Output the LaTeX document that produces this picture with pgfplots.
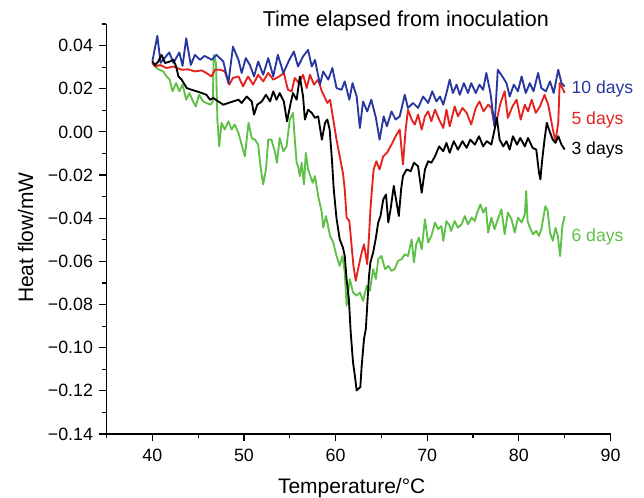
\documentclass[border=0pt]{standalone}
\usepackage{fontspec}
\setmainfont{Liberation Sans}
\usepackage{pgfplots}
\pgfplotsset{compat=1.18}
\definecolor{cblue}{RGB}{40,55,160}
\definecolor{cred}{RGB}{228,35,30}
\definecolor{cgreen}{RGB}{95,192,72}
\begin{document}
\begin{tikzpicture}
\path[use as bounding box] (-106.5bp,-64bp) rectangle (537.5bp,434bp);
\begin{axis}[
  at={(0,0)}, anchor=south west,
  scale only axis, width=504bp, height=410bp,
  xmin=35, xmax=90, ymin=-0.14, ymax=0.05,
  axis lines=left, axis line style={-, line width=1.5bp},
  tick align=outside, major tick length=7bp, minor tick length=4bp,
  every tick/.style={line width=1.2bp, black},
  xtick={40,50,60,70,80,90}, xticklabels={40,50,60,70,80,90},
  minor xtick={35,45,55,65,75,85},
  ytick={-0.14,-0.12,-0.10,-0.08,-0.06,-0.04,-0.02,0,0.02,0.04},
  yticklabels={−0.14,−0.12,−0.10,−0.08,−0.06,−0.04,−0.02,0.00,0.02,0.04},
  minor ytick={-0.13,-0.11,-0.09,-0.07,-0.05,-0.03,-0.01,0.01,0.03,0.05},
  ticklabel style={font=\fontsize{17.8bp}{20bp}\selectfont},
  xticklabel style={yshift=-5bp},
  yticklabel style={xshift=-3bp},
  clip=false,
  every axis plot/.append style={line width=1.85bp, line join=round},
]
\addplot[cgreen] coordinates {(40,0.032) (40.3,0.0303) (40.65,0.029) (41.2,0.028) (41.55,0.0257) (41.9,0.0242) (42.2,0.0188) (42.6,0.0226) (42.95,0.0188) (43.3,0.0219) (43.7,0.0149) (44.05,0.018) (44.45,0.0141) (44.75,0.0118) (45.1,0.0172) (45.55,0.0141) (45.9,0.0134) (46.35,0.0126) (46.6,0.0141) (46.7,0.0357) (46.95,0.0319) (47.1,0.0057) (47.3,-0.0067) (47.55,0.0042) (47.9,0.0011) (48.3,0.0049) (48.65,0.0011) (49.0,0.0034) (49.4,-0.0005) (49.75,-0.0059) (50.1,-0.0113) (50.5,0.0042) (50.85,-0.0028) (51.2,-0.0036) (51.55,-0.0059) (51.8,-0.0159) (52.1,-0.0243) (52.4,-0.0174) (52.65,-0.0036) (53.0,-0.0036) (53.4,-0.0097) (53.6,-0.0143) (53.9,-0.0028) (54.3,-0.009) (54.65,-0.0067) (55.0,0.0057) (55.35,0.0088) (55.55,-0.0036) (55.75,-0.0143) (55.9,-0.0159) (56.1,-0.0205) (56.3,-0.0143) (56.55,-0.0243) (56.75,-0.0097) (57.0,-0.0174) (57.25,-0.0205) (57.5,-0.0236) (57.75,-0.0205) (58.1,-0.0298) (58.5,-0.0374) (58.65,-0.0444) (58.95,-0.039) (59.4,-0.0482) (59.75,-0.0513) (60.1,-0.0575) (60.45,-0.0621) (60.75,-0.0575) (61.0,-0.0651) (61.2,-0.0806) (61.55,-0.0682) (61.9,-0.0744) (62.3,-0.0759) (62.65,-0.0744) (63.0,-0.0783) (63.4,-0.0713) (63.75,-0.0736) (64.1,-0.0636) (64.4,-0.0682) (64.65,-0.059) (65.0,-0.0575) (65.4,-0.0636) (65.75,-0.0621) (66.1,-0.0644) (66.45,-0.0636) (66.8,-0.0598) (67.2,-0.059) (67.55,-0.0567) (67.9,-0.0575) (68.3,-0.0498) (68.55,-0.0605) (68.8,-0.0521) (69.1,-0.049) (69.4,-0.0544) (69.75,-0.0405) (70.1,-0.0513) (70.45,-0.0482) (70.85,-0.042) (71.2,-0.0451) (71.55,-0.0436) (71.75,-0.0505) (72.1,-0.0413) (72.45,-0.0436) (72.6,-0.0459) (73.0,-0.0413) (73.35,-0.0444) (73.75,-0.0428) (74.1,-0.039) (74.45,-0.0428) (74.85,-0.0397) (75.2,-0.0413) (75.45,-0.0374) (75.8,-0.0336) (76.1,-0.0374) (76.4,-0.0351) (76.65,-0.0467) (77.0,-0.0397) (77.35,-0.0451) (77.7,-0.0405) (78.1,-0.0359) (78.45,-0.0474) (78.8,-0.0374) (79.2,-0.0405) (79.55,-0.0467) (79.9,-0.0397) (80.3,-0.042) (80.65,-0.0382) (80.8,-0.0274) (80.95,-0.0413) (81.2,-0.0444) (81.55,-0.0474) (81.9,-0.0459) (82.2,-0.0482) (82.45,-0.0451) (82.7,-0.039) (82.9,-0.0344) (83.15,-0.0367) (83.4,-0.0467) (83.7,-0.0505) (84.0,-0.0444) (84.25,-0.0482) (84.5,-0.0575) (84.75,-0.0436) (85.0,-0.039)};
\addplot[cred] coordinates {(40,0.032) (40.3,0.0303) (40.85,0.031) (41.55,0.0296) (42.3,0.0303) (43.2,0.0288) (43.9,0.029) (44.65,0.028) (45.4,0.0285) (45.9,0.0273) (46.45,0.0257) (46.85,0.0288) (47.4,0.0288) (47.9,0.028) (48.4,0.0219) (48.8,0.025) (49.4,0.0257) (49.9,0.0211) (50.45,0.0257) (51.0,0.0219) (51.55,0.0265) (52.1,0.0234) (52.65,0.0273) (53.2,0.0242) (53.85,0.0257) (54.35,0.0273) (54.8,0.0195) (55.2,0.0188) (55.55,0.025) (56.0,0.0226) (56.45,0.0265) (56.85,0.0203) (57.2,0.0265) (57.65,0.0219) (58.1,0.0242) (58.5,0.0188) (58.85,0.0157) (59.1,0.0134) (59.4,0.0149) (59.75,0.0057) (60.1,-0.0036) (60.45,-0.0113) (60.8,-0.019) (61.0,-0.0267) (61.2,-0.0397) (61.5,-0.0413) (61.75,-0.0529) (61.95,-0.0621) (62.2,-0.069) (62.45,-0.0636) (62.85,-0.0559) (63.1,-0.0521) (63.45,-0.0613) (63.65,-0.0482) (63.8,-0.036) (64.0,-0.025) (64.15,-0.0174) (64.45,-0.0136) (64.8,-0.0174) (65.2,-0.0113) (65.6,-0.0097) (66.1,-0.0059) (66.55,-0.002) (67.0,0.0011) (67.35,-0.0151) (67.65,0.0011) (67.9,0.0103) (68.3,0.0057) (68.65,0.0034) (69.0,0.008) (69.4,0.0011) (69.75,0.0072) (70.1,0.0095) (70.45,0.0049) (70.85,0.0103) (71.3,0.0057) (71.75,0.0018) (72.1,0.0103) (72.45,0.0026) (73.0,0.0118) (73.35,0.0072) (73.85,0.0111) (74.3,0.0088) (74.8,0.0034) (75.3,0.0111) (75.7,0.0141) (76.15,0.0095) (76.65,0.0126) (77.0,0.0111) (77.35,0.0026) (77.6,0.0057) (78.0,0.0134) (78.45,0.0188) (78.8,0.0065) (79.3,0.0118) (79.75,0.0149) (80.2,0.0057) (80.65,0.0126) (81.0,0.0095) (81.4,0.0149) (81.85,0.0088) (82.3,0.0118) (82.8,0.0172) (83.2,0.0126) (83.75,0.0003) (84.0,-0.0043) (84.3,0.0042) (84.45,0.0226) (84.75,0.0203) (85.0,0.018)};
\addplot[cblue] coordinates {(40,0.0326) (40.55,0.0445) (40.9,0.032) (41.85,0.0368) (42.3,0.032) (42.95,0.0368) (43.3,0.0306) (43.7,0.0434) (44.2,0.031) (44.65,0.0357) (45.2,0.0334) (45.7,0.0352) (46.5,0.0334) (47.0,0.0357) (47.75,0.0326) (48.3,0.0226) (48.8,0.0395) (49.4,0.0334) (49.75,0.0273) (50.2,0.0342) (50.65,0.031) (51.1,0.0257) (51.55,0.0326) (52.1,0.0265) (52.65,0.0342) (53.2,0.0257) (53.7,0.0357) (54.3,0.0273) (54.95,0.0334) (55.45,0.0372) (55.9,0.0303) (56.45,0.035) (57.0,0.038) (57.4,0.0303) (57.75,0.0334) (58.3,0.0219) (58.65,0.028) (59.2,0.0242) (59.65,0.0296) (60.1,0.0203) (60.65,0.0195) (61.0,0.0234) (61.5,0.0149) (61.85,0.0226) (62.3,0.0164) (62.65,0.0018) (63.0,0.0141) (63.45,0.0095) (63.9,0.0149) (64.4,0.0065) (64.8,-0.0036) (65.25,0.0072) (65.6,0.0026) (66.1,0.0095) (66.55,0.0057) (67.0,0.0072) (67.55,0.0172) (67.9,0.0111) (68.45,0.0134) (69.0,0.0111) (69.55,0.0164) (70.1,0.0134) (70.55,0.0188) (71.0,0.0141) (71.4,0.0164) (71.75,0.0126) (72.1,0.018) (72.45,0.0242) (72.8,0.018) (73.2,0.0219) (73.55,0.0172) (74.0,0.0226) (74.45,0.018) (74.8,0.0226) (75.3,0.018) (75.7,0.0219) (76.1,0.0195) (76.45,0.0273) (76.9,0.018) (77.35,0.0026) (77.7,0.0288) (78.2,0.0257) (78.65,0.0226) (79.0,0.0164) (79.45,0.0219) (79.9,0.0188) (80.3,0.0257) (80.75,0.018) (81.2,0.0226) (81.6,0.0188) (82.1,0.0273) (82.45,0.0203) (82.95,0.0188) (83.4,0.0234) (83.8,0.018) (84.3,0.0288) (84.65,0.0226) (85.0,0.021)};
\addplot[black] coordinates {(40,0.0326) (40.3,0.031) (40.65,0.0326) (41.0,0.0357) (41.4,0.0319) (41.9,0.0326) (42.3,0.0334) (42.6,0.0303) (42.85,0.0257) (43.2,0.0242) (43.75,0.0203) (44.3,0.0195) (44.85,0.0188) (45.4,0.018) (45.9,0.0172) (46.3,0.0149) (46.65,0.0157) (47.2,0.0141) (47.75,0.0126) (48.3,0.0134) (48.8,0.0141) (49.4,0.0149) (49.75,0.0134) (50.3,0.0164) (50.85,0.0141) (51.1,0.008) (51.45,0.0126) (51.95,0.0141) (52.4,0.0172) (52.85,0.0141) (53.2,0.0188) (53.55,0.0149) (53.9,0.018) (54.35,0.0141) (54.7,0.0049) (55.1,0.0134) (55.35,0.018) (55.75,0.0149) (56.1,0.0257) (56.45,0.0164) (56.65,0.0057) (57.0,0.0103) (57.4,0.0088) (57.75,0.0065) (58.1,0.0072) (58.5,-0.0036) (58.85,0.0042) (59.1,0.0057) (59.35,0.0011) (59.6,-0.0128) (59.8,-0.0267) (60.1,-0.040) (60.45,-0.0498) (60.8,-0.0536) (61.0,-0.0575) (61.2,-0.0682) (61.45,-0.0775) (61.65,-0.0929) (61.9,-0.1067) (62.1,-0.1129) (62.3,-0.1198) (62.5,-0.119) (62.7,-0.1183) (62.85,-0.1083) (63.1,-0.096) (63.3,-0.0913) (63.45,-0.0806) (63.65,-0.0667) (63.8,-0.0605) (64.1,-0.0559) (64.4,-0.049) (64.65,-0.042) (64.9,-0.039) (65.2,-0.0313) (65.5,-0.029) (65.75,-0.042) (66.0,-0.0359) (66.35,-0.025) (66.9,-0.039) (67.15,-0.0267) (67.35,-0.0205) (67.75,-0.0174) (68.2,-0.0182) (68.55,-0.0143) (69.0,-0.0159) (69.4,-0.0282) (69.75,-0.0174) (70.1,-0.0136) (70.45,-0.0143) (70.85,-0.0113) (71.3,-0.0067) (71.75,-0.009) (72.1,-0.0051) (72.45,-0.0097) (72.9,-0.0043) (73.35,-0.0082) (73.85,-0.0043) (74.3,-0.0074) (74.7,-0.0036) (75.2,-0.0059) (75.65,-0.002) (76.1,-0.0067) (76.5,-0.0043) (77.0,-0.0059) (77.35,0.0011) (77.6,0.0065) (77.9,-0.0036) (78.3,-0.0067) (78.65,-0.0043) (79.0,-0.0082) (79.35,-0.002) (79.8,-0.0059) (80.15,-0.0028) (80.65,-0.0067) (81.0,-0.0028) (81.5,-0.0074) (81.9,-0.0082) (82.2,-0.019) (82.35,-0.022) (82.55,-0.0128) (82.8,-0.0036) (83.05,0.0042) (83.35,0.0003) (83.7,-0.0036) (84.0,-0.0051) (84.3,-0.002) (84.65,-0.0059) (85.0,-0.0082)};
\node[anchor=base, font=\fontsize{21.5bp}{24bp}\selectfont] at (rel axis cs:0.594,0.9927) {Time elapsed from inoculation};
\node[anchor=base, font=\fontsize{21bp}{24bp}\selectfont] at (rel axis cs:0.4865,-0.1439) {Temperature/°C};
\node[anchor=base, rotate=90, font=\fontsize{21bp}{24bp}\selectfont] at (rel axis cs:-0.1458,0.479) {Heat flow/mW};
\node[anchor=base west, inner sep=0pt, text=cblue, font=\fontsize{17.6bp}{20bp}\selectfont] at (axis cs:85.73,0.0177) {10 days};
\node[anchor=base west, inner sep=0pt, text=cred, font=\fontsize{17.6bp}{20bp}\selectfont] at (axis cs:85.73,0.0036) {5 days};
\node[anchor=base west, inner sep=0pt, text=black, font=\fontsize{17.6bp}{20bp}\selectfont] at (axis cs:85.73,-0.0103) {3 days};
\node[anchor=base west, inner sep=0pt, text=cgreen, font=\fontsize{17.6bp}{20bp}\selectfont] at (axis cs:85.73,-0.0508) {6 days};
\end{axis}
\end{tikzpicture}
\end{document}
